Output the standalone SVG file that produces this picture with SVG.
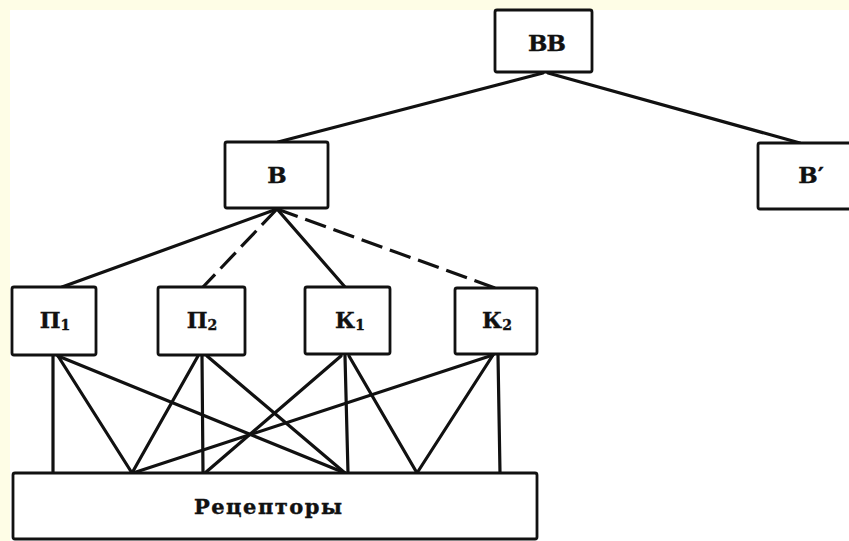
<svg xmlns="http://www.w3.org/2000/svg" width="849" height="541" viewBox="0 0 849 541">
<style>
.box{fill:#fff;stroke:#111;stroke-width:2.8}
.lbl{font-family:"DejaVu Serif","Liberation Serif",serif;font-weight:bold;fill:#111;stroke:#111;stroke-width:0.4;text-anchor:middle}
.c{stroke:#111;stroke-width:3.2;fill:none;stroke-linecap:round}
.d{stroke-dasharray:22 8;stroke-linecap:butt}
</style>
<rect x="0" y="0" width="849" height="541" fill="#fff"/>
<rect x="0" y="0" width="849" height="10" fill="#fefde6"/>
<rect x="0" y="0" width="10" height="541" fill="#fefde6"/>
<g id="connectors">
<line class="c" x1="543" y1="73" x2="278" y2="142"/>
<line class="c" x1="548" y1="73" x2="800" y2="143"/>
<line class="c" x1="277" y1="209" x2="62" y2="287"/>
<line class="c d" x1="277" y1="209" x2="203" y2="287"/>
<line class="c" x1="277" y1="209" x2="345" y2="287"/>
<line class="c d" x1="277" y1="209" x2="495" y2="288"/>
<line class="c" x1="53" y1="356" x2="53" y2="473"/>
<line class="c" x1="58" y1="356" x2="132" y2="473"/>
<line class="c" x1="58" y1="356" x2="345" y2="473"/>
<line class="c" x1="198" y1="356" x2="132" y2="473"/>
<line class="c" x1="202" y1="356" x2="203" y2="473"/>
<line class="c" x1="207" y1="356" x2="345" y2="473"/>
<line class="c" x1="341" y1="356" x2="205" y2="473"/>
<line class="c" x1="345" y1="356" x2="348" y2="473"/>
<line class="c" x1="349" y1="356" x2="417" y2="473"/>
<line class="c" x1="493" y1="355" x2="133" y2="473"/>
<line class="c" x1="493" y1="355" x2="417" y2="473"/>
<line class="c" x1="498" y1="355" x2="500" y2="473"/>
</g>
<g id="BB">
<rect class="box" x="495" y="10" width="97" height="62" rx="2"/>
<text class="lbl" x="547" y="51" font-size="23" textLength="38" lengthAdjust="spacing">BB</text>
</g>
<g id="B">
<rect class="box" x="225" y="142" width="103" height="66" rx="2"/>
<text class="lbl" x="277" y="183" font-size="23">B</text>
</g>
<g id="B_prime">
<rect class="box" x="758" y="143" width="95" height="66" rx="2"/>
<text class="lbl" x="811" y="183" font-size="23">B′</text>
</g>
<g id="P1">
<rect class="box" x="12" y="287" width="84" height="68" rx="2"/>
<text class="lbl" x="55" y="328" font-size="22">П<tspan font-size="14" dy="2">1</tspan></text>
</g>
<g id="P2">
<rect class="box" x="158" y="287" width="87" height="68" rx="2"/>
<text class="lbl" x="202" y="328" font-size="22">П<tspan font-size="14" dy="2">2</tspan></text>
</g>
<g id="K1">
<rect class="box" x="305" y="287" width="85" height="67" rx="2"/>
<text class="lbl" x="350" y="328" font-size="22">К<tspan font-size="14" dy="2">1</tspan></text>
</g>
<g id="K2">
<rect class="box" x="455" y="288" width="82" height="66" rx="2"/>
<text class="lbl" x="497" y="328" font-size="22">К<tspan font-size="14" dy="2">2</tspan></text>
</g>
<g id="receptors">
<rect class="box" x="13" y="473" width="524" height="66" rx="2"/>
<text class="lbl" x="268" y="514" font-size="21" textLength="148" lengthAdjust="spacing">Рецепторы</text>
</g>
</svg>
